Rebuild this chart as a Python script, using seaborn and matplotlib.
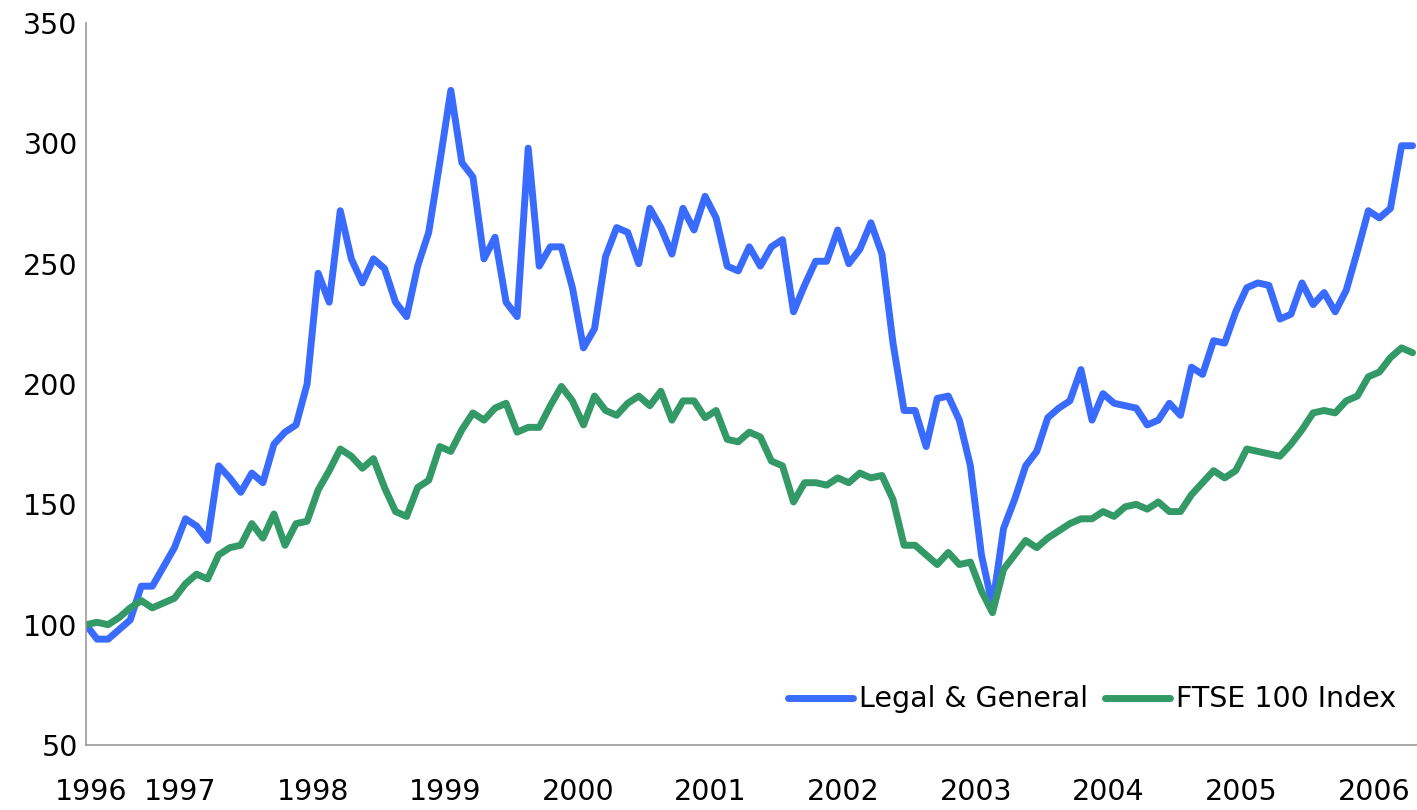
"""Legal & General vs FTSE 100, rebased to 100."""
import matplotlib
matplotlib.use("Agg")
import matplotlib.pyplot as plt
import numpy as np
import pandas as pd
import seaborn as sns

# monthly observations, May 1996 .. May 2006 (index 0..120)
legal_general = [
    100, 94, 94, 98, 102, 116, 116, 124, 132, 144, 141, 135,
    166, 161, 155, 163, 159, 175, 180, 183, 200, 246, 234, 272,
    252, 242, 252, 248, 234, 228, 249, 263, 292, 322, 292, 286,
    252, 261, 234, 228, 298, 249, 257, 257, 240, 215, 223, 253,
    265, 263, 250, 273, 265, 254, 273, 264, 278, 269, 249, 247,
    257, 249, 257, 260, 230, 241, 251, 251, 264, 250, 256, 267,
    254, 217, 189, 189, 174, 194, 195, 185, 166, 129, 108, 140,
    152, 166, 172, 186, 190, 193, 206, 185, 196, 192, 191, 190,
    183, 185, 192, 187, 207, 204, 218, 217, 230, 240, 242, 241,
    227, 229, 242, 233, 238, 230, 239, 255, 272, 269, 273, 299,
    299,
]
ftse_100 = [
    100, 101, 100, 103, 107, 110, 107, 109, 111, 117, 121, 119,
    129, 132, 133, 142, 136, 146, 133, 142, 143, 156, 164, 173,
    170, 165, 169, 157, 147, 145, 157, 160, 174, 172, 181, 188,
    185, 190, 192, 180, 182, 182, 191, 199, 193, 183, 195, 189,
    187, 192, 195, 191, 197, 185, 193, 193, 186, 189, 177, 176,
    180, 178, 168, 166, 151, 159, 159, 158, 161, 159, 163, 161,
    162, 152, 133, 133, 129, 125, 130, 125, 126, 114, 105, 123,
    129, 135, 132, 136, 139, 142, 144, 144, 147, 145, 149, 150,
    148, 151, 147, 147, 154, 159, 164, 161, 164, 173, 172, 171,
    170, 175, 181, 188, 189, 188, 193, 195, 203, 205, 211, 215,
    213,
]
year_labels = ["1996", "1997", "1998", "1999", "2000", "2001",
               "2002", "2003", "2004", "2005", "2006"]

month = np.arange(len(legal_general))
df = pd.DataFrame({
    "month": np.concatenate([month, month]),
    "value": legal_general + ftse_100,
    "series": ["Legal & General"] * len(month) + ["FTSE 100 Index"] * len(month),
})

sns.set_style("white")
plt.rcParams["font.family"] = ["DejaVu Sans"]
plt.rcParams["text.color"] = "black"

fig = plt.figure(figsize=(14.17, 8.1), dpi=100)
ax = fig.add_axes([0.0607, 0.0802, 0.9393, 0.8914])

palette = {"Legal & General": "#3A6BFF", "FTSE 100 Index": "#339966"}
sns.lineplot(data=df, x="month", y="value", hue="series", palette=palette,
             linewidth=5.0, ax=ax, solid_capstyle="round", solid_joinstyle="round")

ax.set_xlim(0, 120.4)
ax.set_ylim(50, 350)
ax.set_yticks(range(50, 351, 50))
ax.set_xticks([0.5] + [8.5 + 12 * k for k in range(10)])
ax.set_xticklabels(year_labels)
ax.tick_params(axis="both", length=0, labelsize=20.5, colors="black")
ax.tick_params(axis="x", pad=24)
ax.tick_params(axis="y", pad=6)
ax.set_xlabel("")
ax.set_ylabel("")

for side in ("top", "right"):
    ax.spines[side].set_visible(False)
for side in ("left", "bottom"):
    ax.spines[side].set_color("#9a9a9a")
    ax.spines[side].set_linewidth(1.2)

leg = ax.legend(loc="lower right", ncol=2, frameon=False, fontsize=20.5,
                handlelength=2.3, handletextpad=0.2, columnspacing=0.6,
                borderpad=0, bbox_to_anchor=(0.995, 0.024))
for line in leg.get_lines():
    line.set_linewidth(5.0)
    line.set_solid_capstyle("round")
for text in leg.get_texts():
    text.set_color("black")

fig.savefig("out.png", dpi=100)
plt.close(fig)
